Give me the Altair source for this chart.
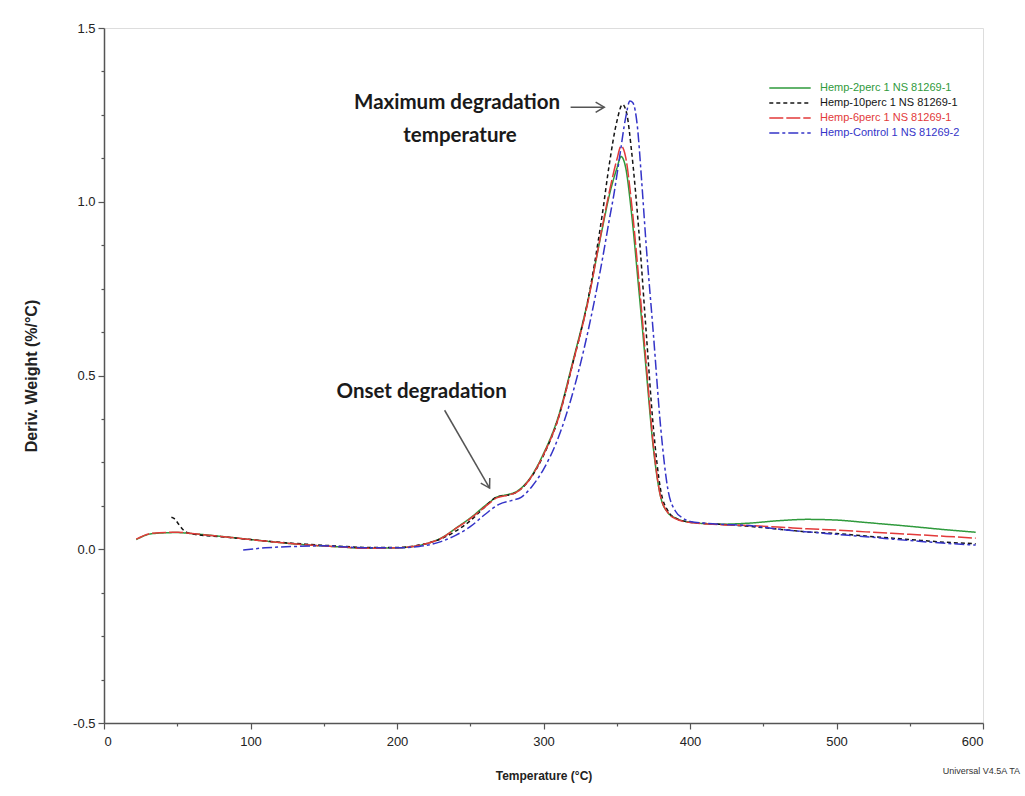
import altair as alt
import pandas as pd

# ---------------- data ----------------
names = ["Hemp-2perc 1 NS 81269-1", "Hemp-10perc 1 NS 81269-1",
         "Hemp-6perc 1 NS 81269-1", "Hemp-Control 1 NS 81269-2"]
colors = ["#2f9a3c", "#141414", "#e23a3a", "#3434c8"]
dashes = [[1, 0], [4, 3], [14, 3], [10, 3, 3, 3]]

green_T = [22, 33, 50, 60, 80, 100, 118, 140, 160, 177, 200, 218, 230, 241, 250, 263, 268, 275, 282, 290,
           300, 310, 320, 330, 340, 345, 350, 353, 356, 360, 365, 370, 375, 380, 385, 390, 400, 420,
           440, 460, 480, 500, 520, 550, 575, 595]
green_w = [0.028, 0.045, 0.048, 0.045, 0.037, 0.028, 0.020, 0.012, 0.007, 0.003, 0.004, 0.014, 0.032, 0.063,
           0.090, 0.135, 0.150, 0.157, 0.167, 0.200, 0.275, 0.380, 0.540, 0.710, 0.920, 1.020, 1.095,
           1.130, 1.100, 0.970, 0.750, 0.520, 0.290, 0.150, 0.105, 0.090, 0.078, 0.072, 0.075, 0.082,
           0.086, 0.084, 0.077, 0.066, 0.056, 0.049]

red_T = [22, 33, 50, 60, 80, 100, 118, 140, 160, 177, 200, 218, 230, 241, 250, 263, 268, 275, 282, 290,
         300, 310, 320, 330, 340, 345, 350, 353, 356, 360, 365, 370, 375, 380, 385, 390, 400, 420,
         440, 460, 480, 500, 520, 550, 575, 595]
red_w = [0.029, 0.046, 0.049, 0.045, 0.037, 0.028, 0.020, 0.012, 0.007, 0.003, 0.004, 0.014, 0.031, 0.062,
         0.088, 0.132, 0.148, 0.155, 0.165, 0.198, 0.272, 0.375, 0.535, 0.705, 0.925, 1.030, 1.120,
         1.160, 1.130, 1.000, 0.780, 0.540, 0.300, 0.150, 0.105, 0.088, 0.077, 0.071, 0.068, 0.064,
         0.059, 0.055, 0.050, 0.043, 0.037, 0.032]

black_T = [46, 48, 51, 54, 58, 60, 80, 100, 120, 140, 160, 180, 200, 215, 230, 240, 250, 260, 268, 275,
           282, 290, 300, 310, 320, 330, 340, 345, 350, 354, 357, 360, 365, 370, 375, 380, 385, 390,
           400, 420, 440, 460, 480, 500, 520, 550, 575, 595]
black_w = [0.092, 0.088, 0.072, 0.056, 0.046, 0.044, 0.036, 0.028, 0.020, 0.014, 0.009, 0.005, 0.005,
           0.012, 0.030, 0.052, 0.082, 0.122, 0.150, 0.155, 0.165, 0.198, 0.270, 0.375, 0.535, 0.710,
           0.960, 1.110, 1.230, 1.280, 1.250, 1.150, 0.920, 0.630, 0.350, 0.170, 0.110, 0.090, 0.078,
           0.072, 0.066, 0.058, 0.050, 0.045, 0.038, 0.028, 0.020, 0.016]

blue_T = [95, 110, 130, 150, 160, 180, 200, 215, 230, 240, 250, 260, 270, 278, 285, 292, 300, 310, 320,
          325, 330, 340, 345, 348, 352, 356, 359, 361, 364, 367, 370, 375, 380, 385, 390, 395, 400,
          420, 440, 460, 480, 500, 520, 550, 575, 595]
blue_w = [-0.002, 0.004, 0.008, 0.010, 0.008, 0.004, 0.004, 0.008, 0.022, 0.040, 0.065, 0.100, 0.130,
          0.140, 0.150, 0.180, 0.230, 0.320, 0.450, 0.530, 0.620, 0.830, 0.950, 1.020, 1.130, 1.240,
          1.290, 1.285, 1.220, 1.060, 0.880, 0.620, 0.350, 0.170, 0.110, 0.090, 0.080, 0.072, 0.068,
          0.058, 0.050, 0.043, 0.036, 0.025, 0.017, 0.012]

series_T = [green_T, black_T, red_T, blue_T]
series_w = [green_w, black_w, red_w, blue_w]

# annotations
ann_T = [241.0, 243.0, 216.8]
ann_w = [1.283, 1.190, 0.452]
ann_text = ["Maximum degradation", "temperature", "Onset degradation"]

arrow_T1 = [318.5, 232.5]
arrow_w1 = [1.272, 0.400]
arrow_T2 = [341.5, 263.2]
arrow_w2 = [1.272, 0.176]
arrow_angle = [0, 60]

footer = ["Universal V4.5A TA"]

# ---------------- tables ----------------
rows = []
for n, Ts, ws in zip(names, series_T, series_w):
    for t, w in zip(Ts, ws):
        rows.append({"series": n, "T": t, "w": w})
df = pd.DataFrame(rows)

ann_df = pd.DataFrame({"T": ann_T, "w": ann_w, "text": ann_text})
arr_df = pd.DataFrame({"T1": arrow_T1, "w1": arrow_w1, "T2": arrow_T2, "w2": arrow_w2, "angle": arrow_angle})
foot_df = pd.DataFrame({"text": footer})

FONT = "Liberation Sans"

xscale = alt.Scale(domain=[0, 600], nice=False, zero=False)
yscale = alt.Scale(domain=[-0.5, 1.5], nice=False, zero=False)

x_axis = alt.Axis(
    values=list(range(0, 601, 25)),
    labelExpr="datum.value % 100 === 0 ? datum.label : ''",
    tickSize={"condition": {"test": "datum.value % 100 === 0", "value": 6}, "value": 3},
    title="Temperature (°C)", titleFontSize=12, titleFontWeight="bold", titlePadding=22,
    titleColor="#222", grid=False, labelFontSize=13, labelColor="#222", labelFont=FONT,
    titleFont=FONT, domainColor="#555", domainWidth=1.5, tickColor="#555", tickWidth=1.2,
    labelPadding=6,
)
major_y = "abs(datum.value * 2 - round(datum.value * 2)) < 0.001"
y_axis = alt.Axis(
    values=[-0.5 + 0.125 * i for i in range(17)],
    labelExpr=(f"{major_y} ? (datum.value < 0 ? '-' + format(-datum.value, '.1f') : "
               "format(datum.value, '.1f')) : ''"),
    tickSize={"condition": {"test": major_y, "value": 6}, "value": 3},
    title="Deriv. Weight (%/°C)", titleFontSize=16, titleFontWeight="bold", titlePadding=33,
    titleColor="#222", grid=False, labelFontSize=13, labelColor="#222", labelFont=FONT,
    titleFont=FONT, domainColor="#555", domainWidth=1.5, tickColor="#555", tickWidth=1.2,
    labelPadding=3,
)

label_color_expr = " : ".join(
    [f"datum.label == '{n}' ? '{c}'" for n, c in zip(names, colors)]) + " : '#000'"

legend = alt.Legend(
    title=None, orient="none", legendX=676, legendY=50,
    symbolType="M -2.3 0 L 2.3 0", symbolSize=324, symbolStrokeWidth=1.6,
    labelFont=FONT, labelFontSize=11, labelColor={"expr": label_color_expr},
    labelOffset=20, rowPadding=0, padding=0,
)

lines = alt.Chart(df).mark_line(strokeWidth=1.5, interpolate="monotone").encode(
    x=alt.X("T:Q", scale=xscale, axis=x_axis),
    y=alt.Y("w:Q", scale=yscale, axis=y_axis),
    color=alt.Color("series:N", scale=alt.Scale(domain=names, range=colors), legend=legend),
    strokeDash=alt.StrokeDash("series:N", scale=alt.Scale(domain=names, range=dashes), legend=legend),
    order=alt.Order("T:Q"),
)

texts = alt.Chart(ann_df).mark_text(
    font="Lato", fontWeight="bold", fontSize=20.5, color="#1a1a1a", align="center", baseline="middle"
).encode(x="T:Q", y="w:Q", text="text:N")

shafts = alt.Chart(arr_df).mark_rule(color="#555", strokeWidth=1.5).encode(
    x="T1:Q", y="w1:Q", x2="T2:Q", y2="w2:Q")

heads = alt.Chart(arr_df).mark_point(
    shape="M -1 -0.6 L 0 0 L -1 0.6", filled=False, color="#555", strokeWidth=1.5, size=300, opacity=1
).encode(x="T2:Q", y="w2:Q", angle=alt.Angle("angle:Q", scale=None))

foot = alt.Chart(foot_df).mark_text(
    font=FONT, fontSize=9, color="#333", align="right", baseline="middle"
).encode(x=alt.value(916), y=alt.value(743), text="text:N")

chart = alt.layer(lines, shafts, heads, texts, foot).properties(
    width=879, height=695,
    autosize=alt.AutoSizeParams(type="none"),
    padding={"left": 104, "top": 28, "right": 42, "bottom": 73},
).configure_view(stroke="#555", strokeWidth=1.5).configure(background="white")

chart.save("out.html", embed_options={"renderer": "svg", "actions": False})
